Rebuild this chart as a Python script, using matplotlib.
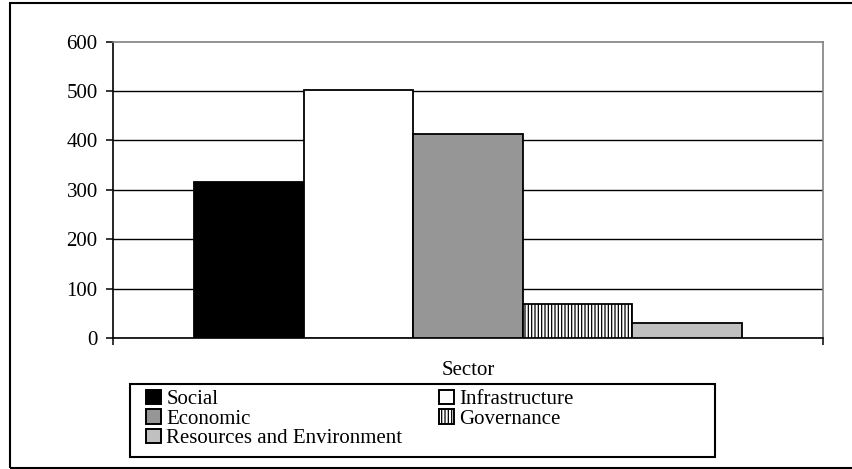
import matplotlib
matplotlib.use("Agg")
import matplotlib.pyplot as plt
from matplotlib.patches import Rectangle, Patch

# sector totals
sectors = ["Social", "Infrastructure", "Economic", "Governance",
           "Resources and Environment"]
values = [316, 502, 412, 69, 30]
yticks = [0, 100, 200, 300, 400, 500, 600]

fills = ["#000000", "#ffffff", "#969696", "#ffffff", "#c0c0c0"]
hatches = [None, None, None, "|||||", None]

plt.rcParams["font.family"] = ["Liberation Serif", "DejaVu Serif"]
plt.rcParams["hatch.linewidth"] = 0.9

W, H = 852, 469
fig = plt.figure(figsize=(W / 100, H / 100), dpi=100)
ax = fig.add_axes([113 / W, 1 - 338 / H, 710 / W, (338 - 41.5) / H])

bw = 0.1542
for i, (name, v) in enumerate(zip(sectors, values)):
    ax.bar((i - 2) * bw, v, width=bw, color=fills[i], edgecolor="black",
           linewidth=1.3, hatch=hatches[i], label=name, zorder=3)

ax.set_xlim(-0.5, 0.5)
ax.set_ylim(0, 600)
ax.set_yticks(yticks)
ax.set_xticks([-0.5, 0.5])
ax.set_xticklabels(["", ""])
ax.tick_params(axis="both", direction="out", length=5, width=1.1,
               color="black", labelsize=15)
ax.tick_params(axis="y", pad=6)

ax.set_axisbelow(True)
ax.yaxis.grid(True, color="black", linewidth=1.0)
ax.get_ygridlines()[-1].set_visible(False)

for side in ("left", "bottom"):
    ax.spines[side].set_color("black")
    ax.spines[side].set_linewidth(1.2)
for side in ("top", "right"):
    ax.spines[side].set_color("#808080")
    ax.spines[side].set_linewidth(1.2)

fig.text(468 / W, 1 - 370 / H, "Sector", ha="center", va="center",
         fontsize=15)

# legend in Excel order: rows filled left to right
order = [0, 2, 4, 1, 3]
handles = [Patch(facecolor=fills[i], edgecolor="black", linewidth=1.4,
                 hatch=hatches[i]) for i in order]
labels = [sectors[i] for i in order]
fig.legend(handles, labels, ncol=2, loc="upper left",
           bbox_to_anchor=(146 / W, 1 - 390 / H), frameon=False,
           fontsize=15, borderpad=0, borderaxespad=0,
           handlelength=0.72, handleheight=0.68, handletextpad=0.25,
           labelspacing=0.0, columnspacing=1.75)

# boxes around the legend and the whole chart
fig.patches.append(Rectangle((130 / W, 1 - 457 / H), 585 / W, 73 / H,
                             transform=fig.transFigure, fill=False,
                             edgecolor="black", linewidth=1.5))
fig.patches.append(Rectangle((10 / W, 1 - 468 / H), 2, 465 / H,
                             transform=fig.transFigure, fill=False,
                             edgecolor="black", linewidth=1.5))

fig.savefig("out.png", dpi=100)
